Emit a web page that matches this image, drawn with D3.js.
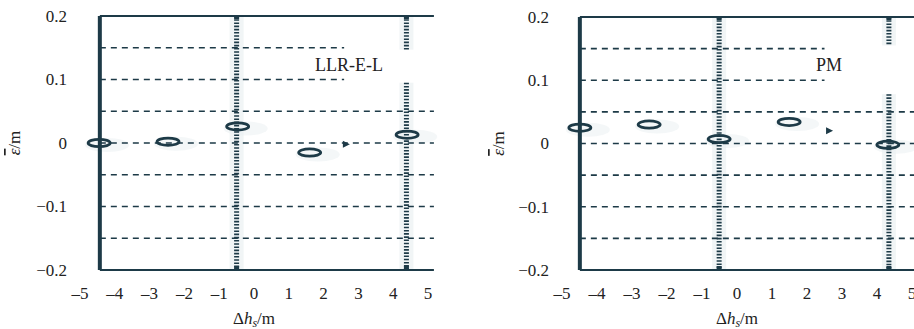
<!DOCTYPE html>
<html>
<head>
<meta charset="utf-8">
<script src="https://cdn.jsdelivr.net/npm/d3@7"></script>
<style>
  body { margin: 0; background: #fff; }
  svg { display: block; }
  text { font-family: "Liberation Serif", "Times New Roman", serif; fill: #222; }
</style>
</head>
<body>
<div id="chart"></div>
<script>
const width = 914;
const height = 329;
const ink = "#1d3a47";

// shared axis values
const xTicks = [-5, -4, -3, -2, -1, 0, 1, 2, 3, 4, 5];
const yTicks = [0.2, 0.1, 0, -0.1, -0.2];
const gridLevels = [0.15, 0.1, 0.05, 0, -0.05, -0.1, -0.15];
const shortLevels = [0.15, 0.1]; // these stop before the label

// panel 1 : LLR-E-L
const llrMarkX = [-4.45, -2.47, -0.47, 1.6, 4.4];
const llrMarkY = [0.0, 0.002, 0.026, -0.015, 0.013];
const llrArrow = [2.64, -0.002];
const llrWall = -4.43;
const llrFrameEnd = 5.17;
const llrShortEnd = 2.59;
const llrBars = [[-0.5, -0.2, 0.2], [4.38, 0.147, 0.2], [4.38, -0.2, 0.095]];

// panel 2 : PM
const pmMarkX = [-4.49, -2.51, -0.51, 1.49, 4.31];
const pmMarkY = [0.025, 0.030, 0.007, 0.034, -0.002];
const pmArrow = [2.63, 0.020];
const pmWall = -4.49;
const pmFrameEnd = 5.4;
const pmShortEnd = 2.5;
const pmBars = [[-0.51, -0.2, 0.2], [4.34, 0.155, 0.2], [4.34, -0.2, 0.078]];

const svg = d3.select("#chart").append("svg")
  .attr("width", width)
  .attr("height", height);

const panels = [
  { name: "LLR-E-L", xr: [80, 428], yr: [16, 270], mx: llrMarkX, my: llrMarkY, arrow: llrArrow,
    wall: llrWall, end: llrFrameEnd, shortEnd: llrShortEnd, bars: llrBars,
    labelX: 315, ytx: 67, ylx: 15 },
  { name: "PM", xr: [562, 912], yr: [17, 270], mx: pmMarkX, my: pmMarkY, arrow: pmArrow,
    wall: pmWall, end: pmFrameEnd, shortEnd: pmShortEnd, bars: pmBars,
    labelX: 816, ytx: 549, ylx: 499 }
];

const dash = s => s.replace("-", "\u2013");

panels.forEach(p => {
  const x = d3.scaleLinear().domain([-5, 5]).range(p.xr);
  const y = d3.scaleLinear().domain([0.2, -0.2]).range(p.yr);
  const g = svg.append("g");

  // faint halo behind the hatched bars
  g.selectAll(".halo").data(p.bars).enter().append("rect")
    .attr("x", d => x(d[0]) - 7)
    .attr("y", d => y(d[2]))
    .attr("width", 14)
    .attr("height", d => y(d[1]) - y(d[2]))
    .attr("fill", "#f1f5f6");

  // faint smudges around markers
  g.selectAll(".smudge").data(p.mx).enter().append("ellipse")
    .attr("cx", d => x(d) + 8)
    .attr("cy", (d, i) => y(p.my[i]) + 2)
    .attr("rx", 22).attr("ry", 7)
    .attr("fill", "#eaf0f2").attr("opacity", 0.5);

  // dashed horizontal lines
  g.selectAll(".grid").data(gridLevels).enter().append("line")
    .attr("x1", x(p.wall))
    .attr("x2", d => shortLevels.includes(d) ? x(p.shortEnd) : x(p.end))
    .attr("y1", d => y(d)).attr("y2", d => y(d))
    .attr("stroke", ink)
    .attr("stroke-width", 1.6)
    .attr("stroke-dasharray", "6,5");

  // hatched vertical bars
  g.selectAll(".bar").data(p.bars).enter().append("line")
    .attr("x1", d => x(d[0])).attr("x2", d => x(d[0]))
    .attr("y1", d => y(d[2])).attr("y2", d => y(d[1]))
    .attr("stroke", ink)
    .attr("stroke-width", 5)
    .attr("stroke-dasharray", "1.6,1.6");

  // frame top and bottom
  g.selectAll(".frame").data([0.2, -0.2]).enter().append("line")
    .attr("x1", x(p.wall)).attr("x2", x(p.end))
    .attr("y1", d => y(d)).attr("y2", d => y(d))
    .attr("stroke", ink).attr("stroke-width", 1.8);

  // bar ends at top and bottom of the frame
  g.selectAll(".capt").data(p.bars.filter(d => d[2] === 0.2)).enter().append("rect")
    .attr("x", d => x(d[0]) - 2.5).attr("y", y(0.2) - 1)
    .attr("width", 5).attr("height", 4).attr("fill", ink);
  g.selectAll(".capb").data(p.bars.filter(d => d[1] === -0.2)).enter().append("rect")
    .attr("x", d => x(d[0]) - 2.5).attr("y", y(-0.2) - 4)
    .attr("width", 5).attr("height", 4).attr("fill", ink);

  // thick solid wall on the left
  g.append("line")
    .attr("x1", x(p.wall)).attr("x2", x(p.wall))
    .attr("y1", y(0.2)).attr("y2", y(-0.2))
    .attr("stroke", ink).attr("stroke-width", 4);

  // markers
  g.selectAll(".mark").data(p.mx).enter().append("ellipse")
    .attr("cx", d => x(d))
    .attr("cy", (d, i) => y(p.my[i]))
    .attr("rx", 11).attr("ry", 3.6)
    .attr("fill", "none")
    .attr("stroke", ink).attr("stroke-width", 2.8);

  // small arrow head
  const ax = x(p.arrow[0]), ay = y(p.arrow[1]);
  g.append("path")
    .attr("d", d3.line()([[ax - 3, ay - 3.5], [ax + 4, ay], [ax - 3, ay + 3.5]]) + "Z")
    .attr("fill", ink);

  // panel label
  g.append("text")
    .attr("x", p.labelX).attr("y", 71)
    .attr("font-size", 18)
    .text(p.name);

  // y tick labels
  g.selectAll(".yt").data(yTicks).enter().append("text")
    .attr("x", p.ytx).attr("y", d => y(d))
    .attr("dy", "0.35em")
    .attr("text-anchor", "end")
    .attr("font-size", 17)
    .text(d => dash(d3.format("")(d)));

  // x tick labels
  g.selectAll(".xt").data(xTicks).enter().append("text")
    .attr("x", d => x(d)).attr("y", 299)
    .attr("text-anchor", "middle")
    .attr("font-size", 17)
    .text(d => dash(String(d)));

  // y axis title
  const yl = g.append("text")
    .attr("transform", `translate(${p.ylx + 5},${y(0)}) rotate(-90)`)
    .attr("text-anchor", "middle")
    .attr("font-size", 17);
  yl.append("tspan").attr("font-style", "italic").attr("text-decoration", "overline").text("\u03b5");
  yl.append("tspan").text("/m");

  // x axis title
  const xl = g.append("text")
    .attr("x", x(0)).attr("y", 324)
    .attr("text-anchor", "middle")
    .attr("font-size", 17);
  xl.append("tspan").text("\u0394");
  xl.append("tspan").attr("font-style", "italic").text("h");
  xl.append("tspan").attr("font-style", "italic").attr("font-size", 12).attr("dy", 3).text("s");
  xl.append("tspan").attr("dy", -3).text("/m");
});
</script>
</body>
</html>
